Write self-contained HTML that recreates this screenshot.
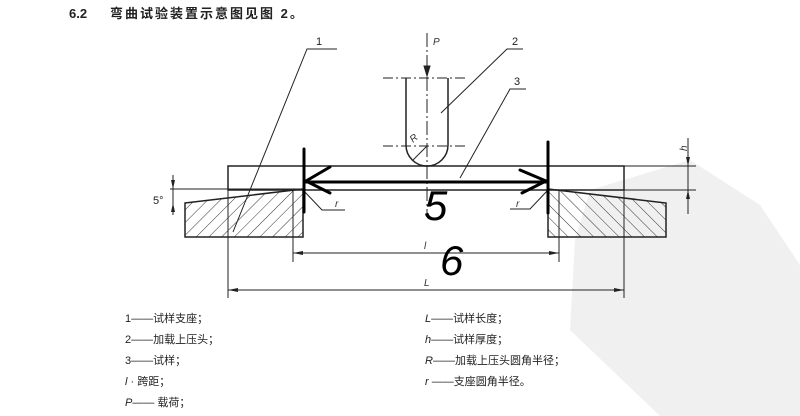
<!DOCTYPE html>
<html><head><meta charset="utf-8"><style>
html,body{margin:0;padding:0;background:#fff;width:800px;height:416px;overflow:hidden}
svg{display:block}
text{font-family:"Liberation Sans","Noto Sans CJK SC",sans-serif}
</style></head><body>
<svg width="800" height="416" viewBox="0 0 800 416" xmlns="http://www.w3.org/2000/svg">
<defs>
<pattern id="hl" patternUnits="userSpaceOnUse" width="9" height="9" patternTransform="rotate(45)"><line x1="0" y1="0" x2="0" y2="9" stroke="#333" stroke-width="1"/></pattern>
<pattern id="hr" patternUnits="userSpaceOnUse" width="9" height="9" patternTransform="rotate(-45)"><line x1="0" y1="0" x2="0" y2="9" stroke="#333" stroke-width="1"/></pattern>
</defs>
<!-- watermark -->
<path d="M590 190 L690 160 L760 205 L800 265 L800 416 L660 416 L570 330 L575 240 Z" fill="#f0f0f0"/>
<text x="69" y="18" font-size="13" font-weight="bold" fill="#222">6.2</text>
<text x="110" y="18" font-size="13" font-weight="bold" fill="#222" letter-spacing="2">弯曲试验装置示意图见图 2。</text>
<g stroke="#222" fill="none" stroke-width="1">
<path d="M185 203 L303 189 L303 237 L185 237 Z" fill="url(#hl)" stroke-width="1.5"/>
<path d="M548 189 L666 203 L666 237 L548 237 Z" fill="url(#hr)" stroke-width="1.5"/>
<rect x="228" y="166" width="396" height="24" stroke-width="1.5"/>
<path d="M406 78 L406 145 A21 21 0 0 0 448 145 L448 78" stroke-width="1.5"/>
<line x1="383" y1="78" x2="468" y2="78" stroke-dasharray="10,3,2,3"/>
<line x1="383" y1="146" x2="468" y2="146" stroke-dasharray="10,3,2,3"/>
<line x1="427" y1="33" x2="427" y2="215" stroke-dasharray="14,3,2,3"/>
<line x1="427" y1="146" x2="413" y2="160"/>
<path d="M424 66 L427 76 L430 66 Z" fill="#222"/>
<polyline points="233,232 307,49 337,49"/>
<polyline points="441,113 507,49 523,49"/>
<polyline points="460,178 510,89 526,89"/>
<polyline points="303,190 322,210 345,210"/>
<polyline points="548,190 530,209 510,209"/>
<line x1="170" y1="189" x2="303" y2="189"/>
<line x1="173" y1="175" x2="173" y2="215"/>
<line x1="293" y1="190" x2="293" y2="262"/>
<line x1="559" y1="190" x2="559" y2="262"/>
<line x1="228" y1="190" x2="228" y2="298"/>
<line x1="624" y1="190" x2="624" y2="298"/>
<line x1="293" y1="253" x2="559" y2="253"/>
<line x1="228" y1="290" x2="624" y2="290"/>
<line x1="624" y1="166" x2="696" y2="166"/>
<line x1="624" y1="190" x2="696" y2="190"/>
<line x1="688" y1="138" x2="688" y2="214"/>
</g>
<g fill="#222">
<path d="M293 253 L303 251 L303 255 Z"/><path d="M559 253 L549 251 L549 255 Z"/>
<path d="M228 290 L238 288 L238 292 Z"/><path d="M624 290 L614 288 L614 292 Z"/>
<path d="M688 166 L686 157 L690 157 Z"/><path d="M688 190 L686 199 L690 199 Z"/>
<path d="M173 189 L171 180 L175 180 Z"/><path d="M173 203 L171 212 L175 212 Z"/>
</g>
<g font-size="10" fill="#333" font-style="italic">
<text x="433" y="45">P</text>
<text x="413" y="143" transform="rotate(-40 413 143)">R</text>
<text x="335" y="207">r</text><text x="516" y="207">r</text>
<text x="424" y="249">l</text><text x="424" y="286">L</text>
<text x="680" y="150" transform="rotate(-90 684 147)">h</text>
</g>
<g font-size="11" fill="#222">
<text x="316" y="45">1</text><text x="512" y="45">2</text><text x="514" y="85">3</text>
<text x="153" y="204">5°</text>
</g>
<g stroke="#000" stroke-width="3" fill="none" stroke-linecap="round">
<line x1="304" y1="149" x2="304" y2="212"/>
<line x1="548" y1="142" x2="548" y2="213"/>
<line x1="305" y1="182" x2="546" y2="182"/>
<polyline points="330,167 306,181 330,193"/>
<polyline points="520,170 546,181 522,193"/>
</g>
<text x="424" y="220" font-size="42" fill="#000" font-style="italic">5</text>
<text x="440" y="275" font-size="42" fill="#000" font-style="italic">6</text>
<g font-size="11" fill="#222">
<text x="125" y="322">1——试样支座；</text>
<text x="125" y="343">2——加载上压头；</text>
<text x="125" y="364">3——试样；</text>
<text x="125" y="385"><tspan font-style="italic">l</tspan>  ·  跨距；</text>
<text x="125" y="406"><tspan font-style="italic">P</tspan>——  载荷；</text>
<text x="425" y="322"><tspan font-style="italic">L</tspan>——试样长度；</text>
<text x="425" y="343"><tspan font-style="italic">h</tspan>——试样厚度；</text>
<text x="425" y="364"><tspan font-style="italic">R</tspan>——加载上压头圆角半径；</text>
<text x="425" y="385"><tspan font-style="italic">r</tspan> ——支座圆角半径。</text>
</g>
</svg>
</body></html>
